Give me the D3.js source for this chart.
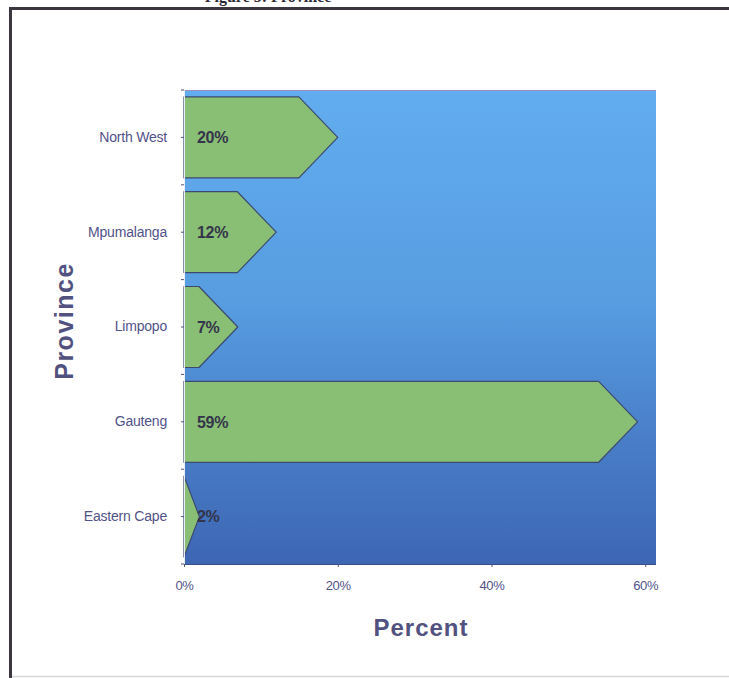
<!DOCTYPE html>
<html>
<head>
<meta charset="utf-8">
<script src="https://cdn.jsdelivr.net/npm/d3@7"></script>
<style>
  html, body { margin: 0; padding: 0; background: #ffffff; }
  svg { display: block; }
</style>
</head>
<body>
<svg id="chart" width="729" height="678"></svg>
<script>
// Share of respondents by province
const provinces = ["North West", "Mpumalanga", "Limpopo", "Gauteng", "Eastern Cape"];
const percents = [20, 12, 7, 59, 2];
const xTicks = [0, 20, 40, 60];

const svg = d3.select("#chart");
const W = 729, H = 678;
const plot = { left: 184, right: 656, top: 90, bottom: 564 };
const sans = "Liberation Sans, Arial, sans-serif";

// Page frame and heading above it
svg.append("text")
  .attr("x", 268).attr("y", 2)
  .attr("text-anchor", "middle")
  .attr("font-family", "Liberation Serif, Times New Roman, serif")
  .attr("font-weight", "bold")
  .attr("font-size", 16)
  .attr("fill", "#2e2a33")
  .text("Figure 3: Province");

svg.append("path")
  .attr("d", `M10.5,${H} L10.5,8.5 L${W},8.5`)
  .attr("fill", "none")
  .attr("stroke", "#3b3640")
  .attr("stroke-width", 3);

svg.append("line")
  .attr("x1", 12).attr("x2", W).attr("y1", H - 1.5).attr("y2", H - 1.5)
  .attr("stroke", "#d8d8dc").attr("stroke-width", 1.5);

// Scales
const x = d3.scaleLinear().domain([0, 61.4]).range([plot.left, plot.right]);
const y = d3.scaleBand()
  .domain(provinces)
  .range([plot.top, plot.bottom])
  .paddingInner(0.146)
  .paddingOuter(0.073);

// Plot background gradient
const defs = svg.append("defs");
const grad = defs.append("linearGradient")
  .attr("id", "bg").attr("x1", 0).attr("y1", 0).attr("x2", 0).attr("y2", 1);
[["0%", "#62adef"], ["45%", "#579de0"], ["72%", "#4a80c9"], ["100%", "#3d66b3"]]
  .forEach(([o, c]) => grad.append("stop").attr("offset", o).attr("stop-color", c));

svg.append("rect")
  .attr("x", plot.left).attr("y", plot.top)
  .attr("width", plot.right - plot.left)
  .attr("height", plot.bottom - plot.top)
  .attr("fill", "url(#bg)");

svg.append("line")
  .attr("x1", plot.left).attr("x2", plot.right)
  .attr("y1", plot.top + 0.5).attr("y2", plot.top + 0.5)
  .attr("stroke", "#9a8fc0").attr("stroke-width", 1);

// Arrow-shaped bars
const data = provinces.map((p, i) => ({ p, v: percents[i] }));
function arrowPath(d) {
  const x0 = x(0), x1 = x(d.v);
  const y0 = y(d.p), h = y.bandwidth(), ym = y0 + h / 2;
  const depth = Math.min(x1 - x0, h * 0.48);
  const xs = x1 - depth;
  return `M${x0},${y0} L${xs},${y0} L${x1},${ym} L${xs},${y0 + h} L${x0},${y0 + h} Z`;
}

svg.append("g").selectAll("path")
  .data(data).join("path")
  .attr("d", arrowPath)
  .attr("fill", "#89bf75")
  .attr("stroke", "#3c4a70")
  .attr("stroke-width", 1.2)
  .attr("stroke-linejoin", "round");

svg.append("g").selectAll("text")
  .data(data).join("text")
  .attr("x", x(0) + 13)
  .attr("y", d => y(d.p) + y.bandwidth() / 2)
  .attr("dy", "0.36em")
  .attr("font-family", sans)
  .attr("font-weight", "bold")
  .attr("font-size", 16)
  .attr("letter-spacing", "-0.3px")
  .attr("fill", "#34344a")
  .text(d => d.v + "%");

// Category axis
const yAxis = svg.append("g")
  .attr("transform", `translate(${plot.left},0)`)
  .call(d3.axisLeft(y).tickSize(3).tickPadding(14));
yAxis.select(".domain").attr("stroke", "#e8eef8").attr("stroke-width", 1);
yAxis.selectAll(".tick line").attr("stroke", "#55557a");
yAxis.selectAll(".tick text")
  .attr("font-family", sans)
  .attr("font-size", 14)
  .attr("letter-spacing", "-0.2px")
  .attr("fill", "#52528a");

// Boundary ticks between categories
const bounds = provinces.map(p => y(p) - y.step() * y.paddingInner() / 2)
  .concat([plot.bottom]);
svg.append("g").selectAll("line")
  .data(bounds).join("line")
  .attr("x1", plot.left - 3).attr("x2", plot.left)
  .attr("y1", d => d).attr("y2", d => d)
  .attr("stroke", "#55557a");

// Value axis
const xAxis = svg.append("g")
  .attr("transform", `translate(0,${plot.bottom})`)
  .call(d3.axisBottom(x).tickValues(xTicks).tickFormat(d => d + "%").tickSize(3).tickPadding(14));
xAxis.select(".domain").attr("stroke", "#3a4d8a").attr("d", `M${plot.left},0.5H${plot.right}`);
xAxis.selectAll(".tick line").attr("stroke", "#55557a");
xAxis.selectAll(".tick text")
  .attr("font-family", sans)
  .attr("font-size", 13)
  .attr("letter-spacing", "-0.3px")
  .attr("fill", "#52528a");

// Axis titles
svg.append("text")
  .attr("x", 421).attr("y", 636)
  .attr("text-anchor", "middle")
  .attr("font-family", sans)
  .attr("font-weight", "bold")
  .attr("font-size", 24)
  .attr("letter-spacing", "1px")
  .attr("fill", "#525280")
  .text("Percent");

svg.append("text")
  .attr("transform", "translate(73,321) rotate(-90)")
  .attr("text-anchor", "middle")
  .attr("font-family", sans)
  .attr("font-weight", "bold")
  .attr("font-size", 25)
  .attr("letter-spacing", "1.5px")
  .attr("fill", "#525280")
  .text("Province");
</script>
</body>
</html>
